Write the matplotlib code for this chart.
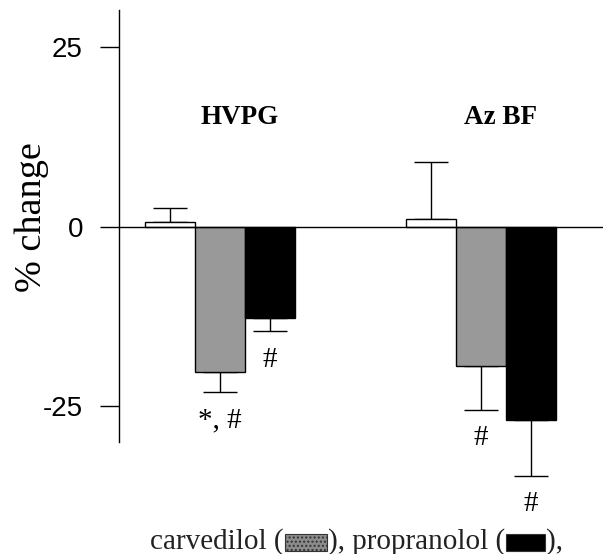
import matplotlib
matplotlib.use('Agg')
import matplotlib.pyplot as plt
import matplotlib.patches as patches
import numpy as np

# percent change, per measure (HVPG, Az BF)
groups = ['HVPG', 'Az BF']
placebo = [0.6, 1.1]
placebo_err = [2.0, 7.9]
carvedilol = [-20.2, -19.4]
carvedilol_err = [2.8, 6.1]
propranolol = [-12.7, -27.0]
propranolol_err = [1.9, 7.7]

# significance marks under carvedilol / propranolol bars
carv_marks = ['*, #', '#']
prop_marks = ['#', '#']

yticks = [-25, 0, 25]

fig = plt.figure(figsize=(6.03, 5.54), dpi=100)
ax = fig.add_axes([119/603, 112/554, 484/603, 432/554])

x = np.arange(len(groups))
w = 0.1916

bar_kw = dict(width=w, edgecolor='black', linewidth=1.0, clip_on=False, zorder=2)
ax.bar(x - w, placebo, color='white', **bar_kw)
ax.bar(x, carvedilol, color='#999999', **bar_kw)
ax.bar(x + w, propranolol, color='black', **bar_kw)

# one sided error bars, away from zero
def errs(vals, e):
    lo = [ee if v < 0 else 0 for v, ee in zip(vals, e)]
    hi = [ee if v >= 0 else 0 for v, ee in zip(vals, e)]
    return [lo, hi]

err_kw = dict(fmt='none', ecolor='black', elinewidth=1.0, capsize=12, capthick=1.0,
              clip_on=False, zorder=1)
ax.errorbar(x - w, placebo, yerr=errs(placebo, placebo_err), **err_kw)
ax.errorbar(x, carvedilol, yerr=errs(carvedilol, carvedilol_err), **err_kw)
ax.errorbar(x + w, propranolol, yerr=errs(propranolol, propranolol_err), **err_kw)

ax.axhline(0, color='black', lw=1.0, zorder=3, clip_on=False)

for i in range(len(groups)):
    ax.text(x[i] + 0.075, 15.2, groups[i], ha='center', va='center', fontsize=19.5,
            fontweight='bold', family='Liberation Serif')
    ax.text(x[i], carvedilol[i] - carvedilol_err[i] - 4.0, carv_marks[i],
            ha='center', va='center', fontsize=21, family='Liberation Serif')
    ax.text(x[i] + w, propranolol[i] - propranolol_err[i] - 4.0, prop_marks[i],
            ha='center', va='center', fontsize=21, family='Liberation Serif')

ax.set_xlim(-0.387, 1.4674)
ax.set_ylim(-30, 30.2)
ax.set_yticks(yticks)
ax.set_yticklabels([str(t) for t in yticks], fontsize=20, family='Liberation Sans')
ax.tick_params(axis='y', direction='out', length=14, width=1.0, pad=12)
ax.set_xticks([])
for s in ['top', 'right', 'bottom']:
    ax.spines[s].set_visible(False)
ax.spines['left'].set_linewidth(1.0)
ax.set_ylabel('% change', fontsize=27.5, family='Liberation Serif')
ax.yaxis.set_label_coords(-0.145, 0.52)

# legend line under the chart
fig.canvas.draw()
r = fig.canvas.get_renderer()
xpix, ypix = 150, 554 - 542
pieces = ['carvedilol (', '), propranolol (', '),']
swatch = ['#8c8c8c', 'black']
swatch_w = [42, 39]
for k, txt in enumerate(pieces):
    t = fig.text(xpix / 603, ypix / 554, txt, fontsize=21, family='Liberation Serif',
                 va='center', ha='left', color='#222222')
    bb = t.get_window_extent(r)
    xpix = bb.x1
    if k < len(swatch):
        rw, rh = swatch_w[k], 17
        fig.patches.append(patches.Rectangle(((xpix + 1) / 603, (ypix - rh / 2) / 554),
                                             rw / 603, rh / 554, transform=fig.transFigure,
                                             facecolor=swatch[k], edgecolor='#333333',
                                             hatch='....' if k == 0 else None, lw=0.8))
        xpix += rw + 2

fig.savefig('out.png', dpi=100)
